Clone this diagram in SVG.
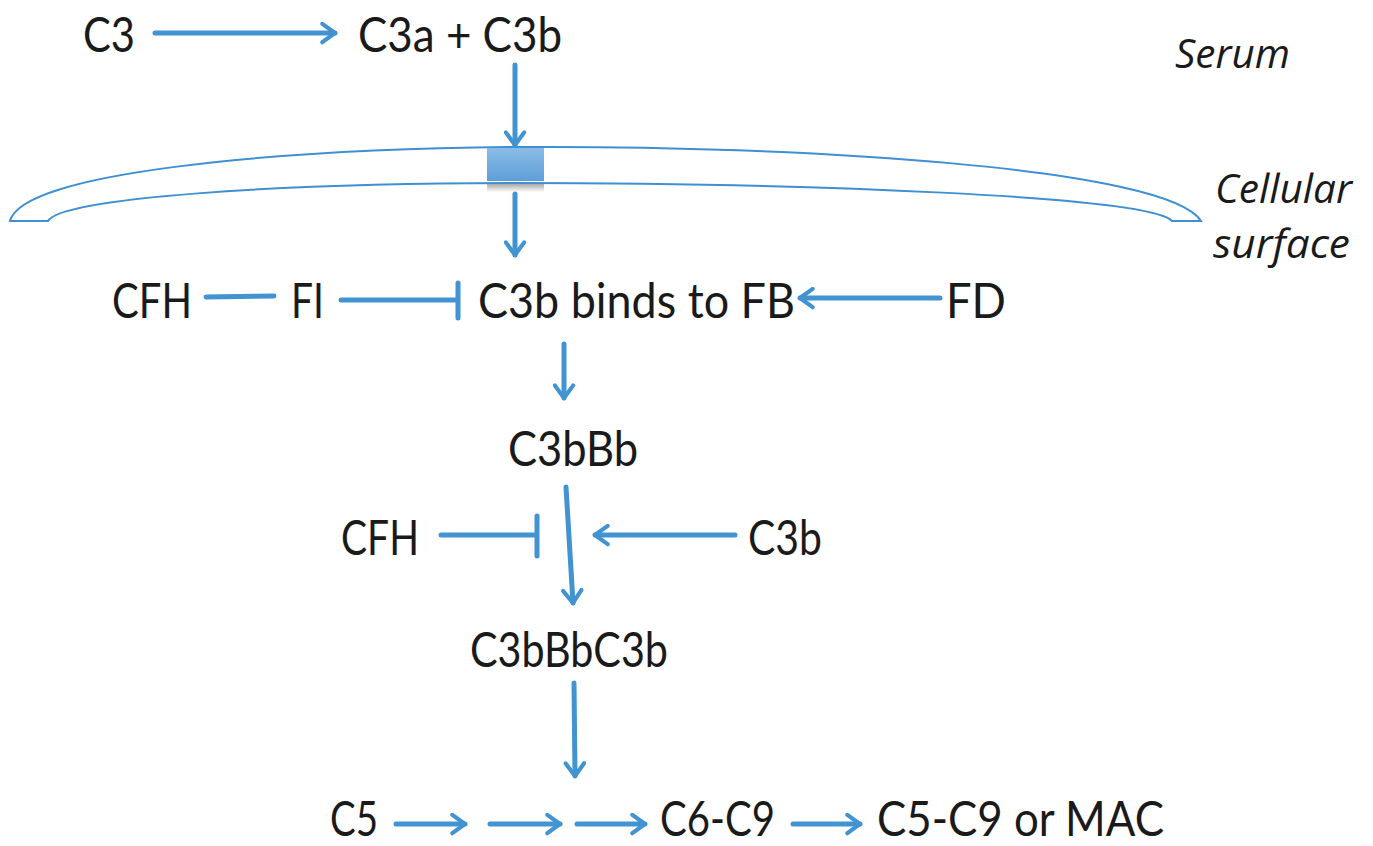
<svg xmlns="http://www.w3.org/2000/svg" width="1373" height="846" viewBox="0 0 1373 846">
<style>
.t{font-family:Lato,"Liberation Sans",sans-serif;font-size:49px;fill:#1a1a1a}
.i{font-family:"Open Sans","Liberation Sans",sans-serif;font-style:italic;font-size:40px;fill:#1a1a1a}
.c{stroke:#4293d1;stroke-width:5;fill:none;stroke-linecap:round}
.a{marker-end:url(#ah)}
</style>
<defs>
<marker id="ah" viewBox="0 0 20 20" refX="15" refY="10" markerWidth="4.6" markerHeight="4.6" markerUnits="strokeWidth" orient="auto">
<path d="M4,2 L15,10 L4,18" fill="none" stroke="#4293d1" stroke-width="3.6" stroke-linecap="round" stroke-linejoin="round"/>
</marker>
<linearGradient id="box" x1="0" y1="0" x2="0" y2="1">
<stop offset="0" stop-color="#8bbce6"/><stop offset="1" stop-color="#5e9fd9"/>
</linearGradient>
<linearGradient id="sh" x1="0" y1="0" x2="0" y2="1">
<stop offset="0" stop-color="#a9a9a9"/><stop offset="1" stop-color="#ffffff"/>
</linearGradient>
</defs>
<rect width="1373" height="846" fill="#fff"/>
<g id="membrane">
<path d="M10,221 C22,172 280,149 515,147 C800,145 1168,168 1201,221 L1172,221 C1150,196 800,183 515,183 C280,183 60,198 48,221 Z" fill="#fff" stroke="#3f8fd3" stroke-width="2"/>
<rect x="487" y="184" width="57" height="8" fill="url(#sh)"/>
<rect x="487" y="148" width="57" height="33" fill="url(#box)"/>
</g>
<g id="n-c3"><text class="t" x="83" y="52" textLength="52" lengthAdjust="spacingAndGlyphs">C3</text></g>
<g id="n-c3a-c3b"><text class="t" x="358" y="52" textLength="204" lengthAdjust="spacingAndGlyphs">C3a + C3b</text></g>
<g id="n-serum"><text class="i" x="1175" y="68" textLength="115" lengthAdjust="spacingAndGlyphs">Serum</text></g>
<g id="n-cellular"><text class="i" x="1215" y="203" textLength="137" lengthAdjust="spacingAndGlyphs">Cellular</text><text class="i" x="1213" y="258" textLength="137" lengthAdjust="spacingAndGlyphs">surface</text></g>
<g id="n-cfh1"><text class="t" x="112" y="318" textLength="80" lengthAdjust="spacingAndGlyphs">CFH</text></g>
<g id="n-fi"><text class="t" x="291" y="318" textLength="33" lengthAdjust="spacingAndGlyphs">FI</text></g>
<g id="n-c3bfb"><text class="t" x="478" y="318" textLength="317" lengthAdjust="spacingAndGlyphs">C3b binds to FB</text></g>
<g id="n-fd"><text class="t" x="946" y="318" textLength="60" lengthAdjust="spacingAndGlyphs">FD</text></g>
<g id="n-c3bbb"><text class="t" x="508" y="466" textLength="130" lengthAdjust="spacingAndGlyphs">C3bBb</text></g>
<g id="n-cfh2"><text class="t" x="341" y="555" textLength="78" lengthAdjust="spacingAndGlyphs">CFH</text></g>
<g id="n-c3b"><text class="t" x="748" y="555" textLength="74" lengthAdjust="spacingAndGlyphs">C3b</text></g>
<g id="n-c3bbbc3b"><text class="t" x="470" y="667" textLength="198" lengthAdjust="spacingAndGlyphs">C3bBbC3b</text></g>
<g id="n-c5"><text class="t" x="330" y="836" textLength="48" lengthAdjust="spacingAndGlyphs">C5</text></g>
<g id="n-c6c9"><text class="t" x="660" y="836" textLength="115" lengthAdjust="spacingAndGlyphs">C6-C9</text></g>
<g id="n-mac"><text class="t" x="877" y="836" textLength="287" lengthAdjust="spacingAndGlyphs">C5-C9 or MAC</text></g>
<g id="connectors">
<line class="c a" x1="155" y1="33" x2="335" y2="33"/>
<line class="c a" x1="515" y1="65" x2="515" y2="145"/>
<line class="c a" x1="515" y1="194" x2="515" y2="255"/>
<line class="c" x1="206" y1="297" x2="274" y2="296"/>
<line class="c" x1="341" y1="300" x2="457" y2="300"/>
<line class="c" x1="458" y1="283" x2="458" y2="318"/>
<line class="c a" x1="940" y1="298" x2="800" y2="298"/>
<line class="c a" x1="564" y1="344" x2="564" y2="398"/>
<line class="c a" x1="566" y1="487" x2="573" y2="603"/>
<line class="c" x1="441" y1="535" x2="536" y2="535"/>
<line class="c" x1="537" y1="516" x2="537" y2="556"/>
<line class="c a" x1="735" y1="535" x2="595" y2="535"/>
<line class="c a" x1="574" y1="683" x2="575" y2="776"/>
<line class="c a" x1="396" y1="824" x2="465" y2="824"/>
<line class="c a" x1="490" y1="824" x2="560" y2="824"/>
<line class="c a" x1="577" y1="824" x2="645" y2="824"/>
<line class="c a" x1="793" y1="824" x2="860" y2="824"/>
</g>
</svg>
